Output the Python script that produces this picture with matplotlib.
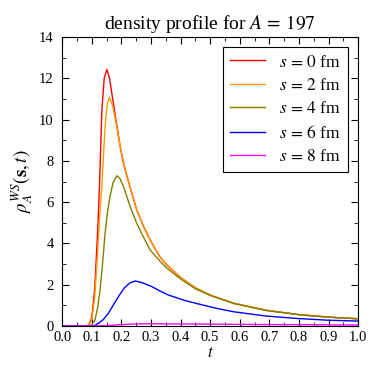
import matplotlib
matplotlib.use("Agg")
import matplotlib.pyplot as plt
from matplotlib.ticker import MultipleLocator

plt.rcParams['font.family'] = 'serif'
plt.rcParams['font.serif'] = ['Liberation Serif', 'DejaVu Serif']
plt.rcParams['mathtext.fontset'] = 'stix'

# s = 0 fm
t_s0 = [0.0, 0.08, 0.09, 0.1, 0.11, 0.12, 0.126, 0.134, 0.142, 0.151, 0.16, 0.173, 0.185,
        0.196, 0.205, 0.213, 0.23, 0.252, 0.275, 0.297, 0.33, 0.354, 0.4, 0.45, 0.5, 0.58,
        0.69, 0.8, 0.9, 1.0]
rho_s0 = [0.0, 0.0, 0.05, 0.4, 1.8, 4.6, 6.75, 10.4, 12.0, 12.43, 12.0, 10.79, 9.68,
          8.69, 8.04, 7.56, 6.7, 5.62, 4.82, 4.17, 3.35, 2.95, 2.35, 1.85, 1.5, 1.1,
          0.76, 0.55, 0.43, 0.35]

# s = 2 fm
t_s2 = [0.0, 0.08, 0.09, 0.1, 0.11, 0.12, 0.127, 0.134, 0.145, 0.152, 0.159, 0.17, 0.18,
        0.19, 0.2, 0.213, 0.23, 0.252, 0.275, 0.297, 0.33, 0.354, 0.4, 0.45, 0.5, 0.58,
        0.69, 0.8, 0.9, 1.0]
rho_s2 = [0.0, 0.0, 0.03, 0.3, 1.4, 3.6, 5.4, 6.75, 9.68, 10.7, 11.08, 10.7, 10.0,
          9.2, 8.4, 7.56, 6.7, 5.62, 4.82, 4.17, 3.35, 2.95, 2.35, 1.85, 1.5, 1.1,
          0.76, 0.55, 0.43, 0.35]

# s = 4 fm
t_s4 = [0.0, 0.09, 0.1, 0.111, 0.12, 0.128, 0.137, 0.145, 0.153, 0.162, 0.172, 0.185,
        0.195, 0.207, 0.23, 0.252, 0.275, 0.297, 0.33, 0.354, 0.4, 0.45, 0.5, 0.58,
        0.69, 0.8, 0.9, 1.0]
rho_s4 = [0.0, 0.0, 0.05, 0.29, 0.9, 1.75, 3.1, 4.5, 5.5, 6.3, 6.95, 7.28,
          7.15, 6.75, 5.78, 4.97, 4.3, 3.68, 3.15, 2.8, 2.28, 1.8, 1.48, 1.09,
          0.75, 0.55, 0.43, 0.35]

# s = 6 fm
t_s6 = [0.0, 0.1, 0.11, 0.123, 0.14, 0.156, 0.17, 0.19, 0.21, 0.23, 0.247, 0.27, 0.303,
        0.33, 0.359, 0.416, 0.466, 0.52, 0.579, 0.69, 0.8, 0.9, 1.0]
rho_s6 = [0.0, 0.0, 0.03, 0.13, 0.33, 0.61, 0.95, 1.42, 1.85, 2.1, 2.18, 2.1, 1.91,
          1.7, 1.5, 1.23, 1.05, 0.86, 0.69, 0.48, 0.36, 0.28, 0.24]

# s = 8 fm
t_s8 = [0.0, 0.1, 0.15, 0.2, 0.25, 0.3, 0.4, 0.5, 0.7, 1.0]
rho_s8 = [0.0, 0.0, 0.02, 0.07, 0.1, 0.11, 0.1, 0.09, 0.07, 0.05]

series = [
    (t_s0, rho_s0, 'red', r'$s\,=\,0$ fm'),
    (t_s2, rho_s2, '#FF9900', r'$s\,=\,2$ fm'),
    (t_s4, rho_s4, '#808000', r'$s\,=\,4$ fm'),
    (t_s6, rho_s6, 'blue', r'$s\,=\,6$ fm'),
    (t_s8, rho_s8, 'magenta', r'$s\,=\,8$ fm'),
]

fig = plt.figure(figsize=(3.7, 3.69), dpi=100)
ax = fig.add_axes([0.168, 0.1165, 0.8, 0.7832])

for t, rho, c, lab in series:
    ax.plot(t, rho, color=c, lw=1.0, label=lab)

ax.set_xlim(0, 1)
ax.set_ylim(0, 14)
ax.xaxis.set_major_locator(MultipleLocator(0.1))
ax.xaxis.set_minor_locator(MultipleLocator(0.05))
ax.yaxis.set_major_locator(MultipleLocator(2))
ax.yaxis.set_minor_locator(MultipleLocator(1))
ax.xaxis.set_major_formatter(lambda v, p: f"{v:.1f}")
ax.tick_params(which='both', direction='in', top=True, right=True, labelsize=10.5)
ax.tick_params(which='major', length=5)
ax.tick_params(which='minor', length=3)
ax.tick_params(axis='y', pad=6)

ax.set_xlabel(r'$t$', fontsize=12, labelpad=1)
ax.set_ylabel(r'$\rho_A^{WS}(\mathbf{s},t)$', fontsize=13.5, labelpad=3)
ax.set_title(r'density profile for $A\,=\,197$', fontsize=14, pad=6)

leg = ax.legend(loc='upper right', fontsize=12.5, fancybox=False, edgecolor='black',
                framealpha=1, handlelength=2.0, borderaxespad=0.6,
                labelspacing=0.42)
leg.get_frame().set_linewidth(0.8)

fig.savefig('out.png', dpi=100)
